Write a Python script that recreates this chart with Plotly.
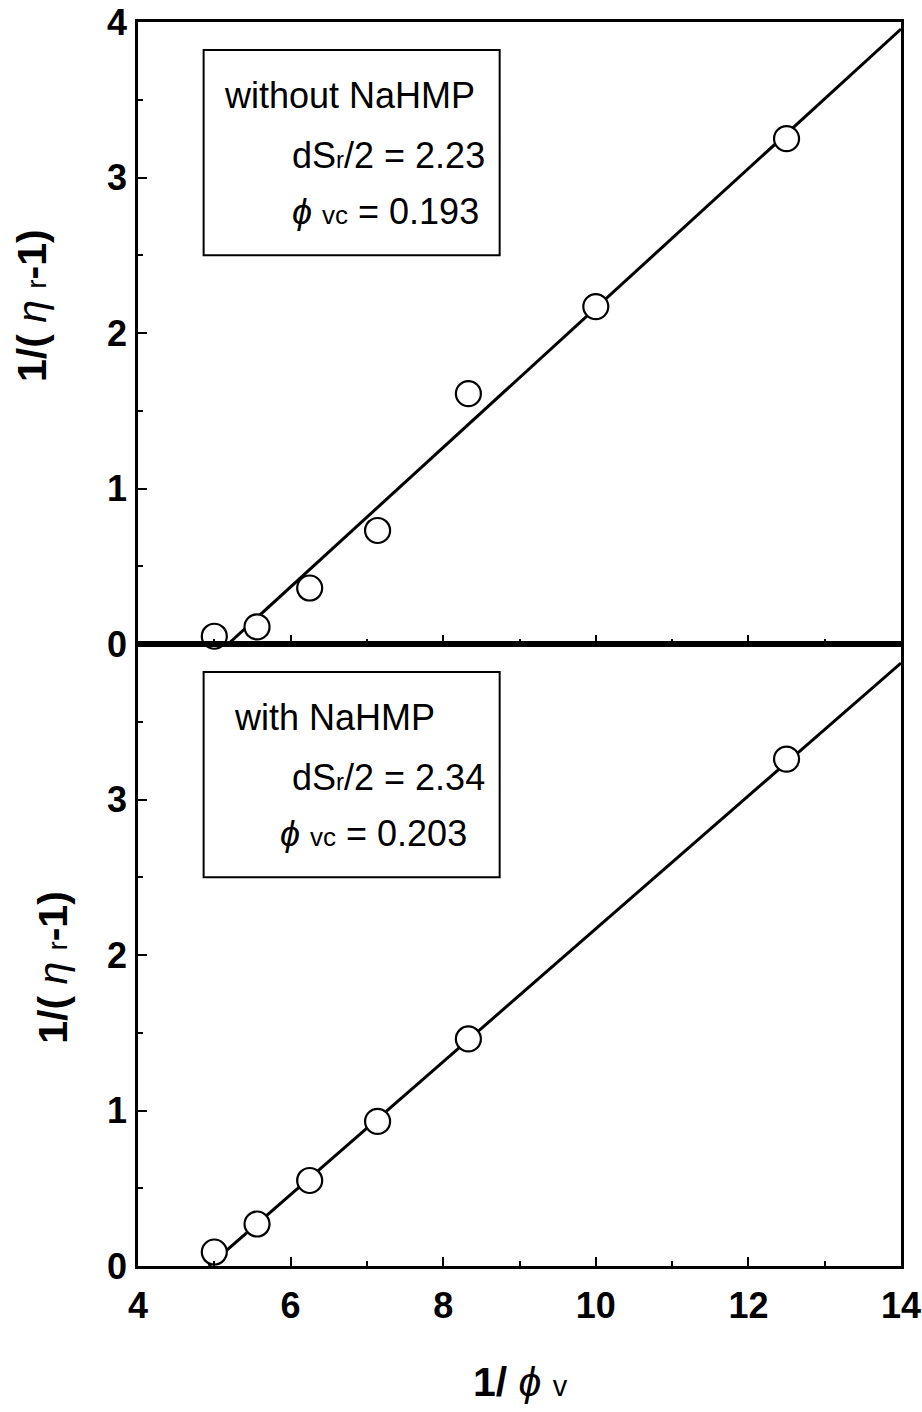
import plotly.graph_objects as go
from plotly.subplots import make_subplots

# Data
x_without = [5.00, 5.56, 6.25, 7.14, 8.33, 10.0, 12.5]
y_without = [0.05, 0.11, 0.36, 0.73, 1.61, 2.17, 3.25]
x_with = [5.00, 5.56, 6.25, 7.14, 8.33, 12.5]
y_with = [0.09, 0.27, 0.55, 0.93, 1.46, 3.26]

dsr_without, phivc_without = 2.23, 0.193
dsr_with, phivc_with = 2.34, 0.203
x_end = 14.0

x_ticks = [4, 6, 8, 10, 12, 14]
y_ticks_top = [0, 1, 2, 3, 4]
y_ticks_bottom = [0, 1, 2, 3]

def fit_line(dsr, phivc):
    x0 = 1.0 / phivc
    xs = [x0, x_end]
    ys = [(x - x0) / dsr for x in xs]
    return xs, ys

fig = make_subplots(rows=2, cols=1, shared_xaxes=True, vertical_spacing=0)

FONT = "Liberation Sans, Arial, sans-serif"

for row, (xd, yd, dsr, phivc) in enumerate(
        [(x_without, y_without, dsr_without, phivc_without),
         (x_with, y_with, dsr_with, phivc_with)], start=1):
    lx, ly = fit_line(dsr, phivc)
    fig.add_trace(go.Scatter(x=lx, y=ly, mode="lines",
                             line=dict(color="black", width=3),
                             showlegend=False, cliponaxis=False), row=row, col=1)
    fig.add_trace(go.Scatter(x=xd, y=yd, mode="markers",
                             marker=dict(symbol="circle", size=25, color="white",
                                         line=dict(color="black", width=2.2)),
                             showlegend=False, cliponaxis=False), row=row, col=1)

axis_common = dict(showline=True, linecolor="black", linewidth=2.5, mirror=True,
                   ticks="inside", ticklen=9, tickwidth=2, tickcolor="black",
                   showgrid=False, zeroline=False, automargin=False,
                   ticklabeloverflow="allow",
                   tickfont=dict(family=FONT, size=36, color="black"))

def bold(vals):
    return ["<b>%d</b>" % v for v in vals]

fig.update_xaxes(range=[4, 14], tickvals=x_ticks, ticktext=bold(x_ticks),
                 minor=dict(ticks="inside", ticklen=5, tickwidth=2, tickcolor="black", dtick=1, tick0=4),
                 **axis_common)
fig.update_xaxes(showticklabels=False, row=1, col=1)
fig.update_xaxes(ticklabelstandoff=6, row=2, col=1)

fig.update_yaxes(range=[0, 4],
                 minor=dict(ticks="inside", ticklen=5, tickwidth=2, tickcolor="black", dtick=0.5, tick0=0),
                 ticklabelstandoff=1, **axis_common)
fig.update_yaxes(tickvals=y_ticks_top, ticktext=bold(y_ticks_top), row=1, col=1)
fig.update_yaxes(tickvals=y_ticks_bottom, ticktext=bold(y_ticks_bottom), row=2, col=1)

# Text boxes
boxes = [("x", "y", "without NaHMP", 5.10, "2.23", 5.99, "0.193", 5.99),
         ("x2", "y2", "with NaHMP", 5.23, "2.34", 5.99, "0.203", 5.83)]
for xr, yr, title, tx, dval, dx, pval, px in boxes:
    fig.add_shape(type="rect", xref=xr, yref=yr, x0=4.86, x1=8.74, y0=2.50, y1=3.82,
                  line=dict(color="black", width=2), fillcolor="white", layer="below")
    tfont = dict(family=FONT, size=36, color="black")
    fig.add_annotation(xref=xr, yref=yr, x=tx, y=3.53, text=title, showarrow=False,
                       xanchor="left", yanchor="middle", font=tfont)
    fig.add_annotation(xref=xr, yref=yr, x=dx, y=3.14,
                       text="dS<span style='font-size:24px'>r</span>/2 = " + dval,
                       showarrow=False, xanchor="left", yanchor="middle", font=tfont)
    fig.add_annotation(xref=xr, yref=yr, x=px, y=2.78,
                       text="<i>ϕ</i> <span style='font-size:26px'>vc</span> = " + pval,
                       showarrow=False, xanchor="left", yanchor="middle", font=tfont)

# Axis titles as annotations
ytitle = "<b>1/(</b> <i>η</i> <span style='font-size:27px'>r</span><b>-1)</b>"
fig.add_annotation(xref="paper", yref="paper", x=-0.139, y=0.7725, text=ytitle,
                   textangle=-90, showarrow=False, xanchor="center", yanchor="middle",
                   font=dict(family=FONT, size=41, color="black"))
fig.add_annotation(xref="paper", yref="paper", x=-0.111, y=0.240, text=ytitle,
                   textangle=-90, showarrow=False, xanchor="center", yanchor="middle",
                   font=dict(family=FONT, size=41, color="black"))
fig.add_annotation(xref="paper", yref="paper", x=0.5007, y=-0.0932,
                   text="<b>1/</b> <i>ϕ</i> <span style='font-size:29px'>v</span>",
                   showarrow=False, xanchor="center", yanchor="middle",
                   font=dict(family=FONT, size=41, color="black"))

fig.update_layout(width=922, height=1412, margin=dict(l=138, r=21, t=22, b=146),
                  plot_bgcolor="white", paper_bgcolor="white", showlegend=False)

fig.write_html("out.html", config={"displayModeBar": False},
               post_script="document.body.style.margin='0px';document.body.style.overflow='hidden';")
